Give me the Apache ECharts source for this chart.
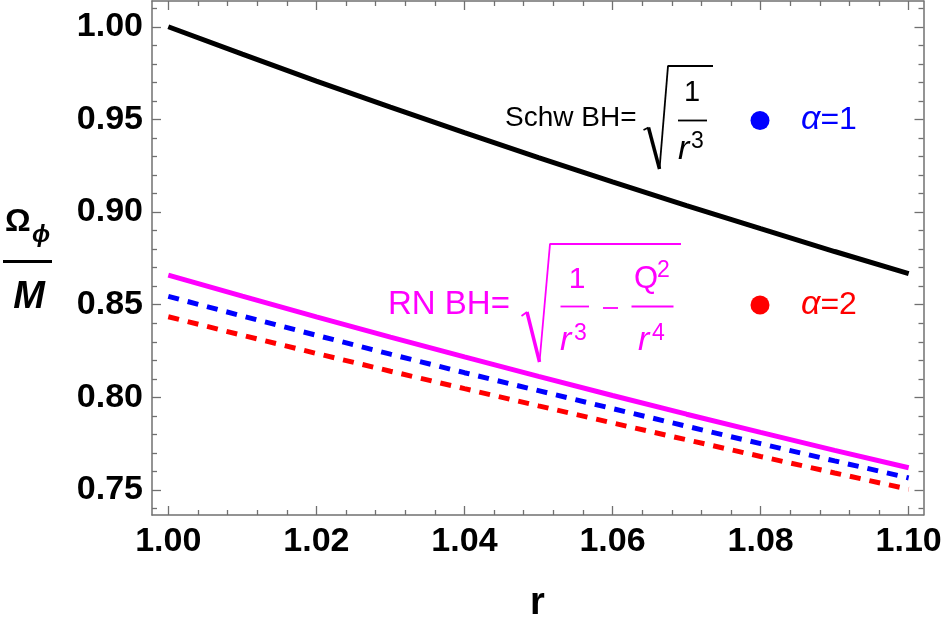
<!DOCTYPE html>
<html>
<head>
<meta charset="utf-8">
<script src="https://cdn.jsdelivr.net/npm/echarts@6/dist/echarts.min.js"></script>
<style>
html,body{margin:0;padding:0;background:#fff;}
#main{width:947px;height:631px;}
</style>
</head>
<body>
<div id="main"></div>
<script>
// ---- data ----
const rValues = [1.00, 1.01, 1.02, 1.03, 1.04, 1.05, 1.06, 1.07, 1.08, 1.09, 1.10];
const schwValues = [1.0000, 0.9852, 0.9707, 0.9566, 0.9429, 0.9294, 0.9163, 0.9035, 0.8910, 0.8787, 0.8668];
const rnValues = [0.8660, 0.8546, 0.8434, 0.8325, 0.8218, 0.8113, 0.8010, 0.7909, 0.7811, 0.7714, 0.7620];
const alpha1Values = [0.8545, 0.8439, 0.8335, 0.8233, 0.8133, 0.8036, 0.7939, 0.7844, 0.7750, 0.7657, 0.7565];
const alpha2Values = [0.8435, 0.8335, 0.8237, 0.8141, 0.8047, 0.7954, 0.7862, 0.7771, 0.7681, 0.7592, 0.7504];

const xTicks = [1.00, 1.02, 1.04, 1.06, 1.08, 1.10];
const yTicks = [0.75, 0.80, 0.85, 0.90, 0.95, 1.00];
const xMinorTicks = [1.004, 1.008, 1.012, 1.016, 1.024, 1.028, 1.032, 1.036, 1.044, 1.048, 1.052, 1.056,
                     1.064, 1.068, 1.072, 1.076, 1.084, 1.088, 1.092, 1.096];
const yMinorTicks = [0.74, 0.76, 0.77, 0.78, 0.79, 0.81, 0.82, 0.83, 0.84, 0.86, 0.87, 0.88, 0.89,
                     0.91, 0.92, 0.93, 0.94, 0.96, 0.97, 0.98, 0.99, 1.01];

const X_MIN = 0.9978, X_MAX = 1.1020, Y_MIN = 0.7365, Y_MAX = 1.0139;
const FONT = "'Liberation Sans', Arial, sans-serif";
const FRAME = '#707070';

function pairs(vals){ return rValues.map((r,i)=>[r, vals[i]]); }

function xAxisDef(pos, values, len, showLine, showLabel){
  return {
    type:'value', position:pos, min:X_MIN, max:X_MAX,
    splitLine:{show:false},
    axisLine:{show:showLine, onZero:false, lineStyle:{color:FRAME, width:1.5}},
    axisTick:{show:true, inside:true, length:len, customValues:values, lineStyle:{color:FRAME, width:1.3}},
    axisLabel:{show:showLabel, customValues:xTicks, margin:10, fontSize:34, fontWeight:'bold', color:'#000', fontFamily:FONT,
      formatter:(v)=>v.toFixed(2)}
  };
}
function yAxisDef(pos, values, len, showLine, showLabel){
  return {
    type:'value', position:pos, min:Y_MIN, max:Y_MAX,
    splitLine:{show:false},
    axisLine:{show:showLine, onZero:false, lineStyle:{color:FRAME, width:1.5}},
    axisTick:{show:true, inside:true, length:len, customValues:values, lineStyle:{color:FRAME, width:1.3}},
    axisLabel:{show:showLabel, customValues:yTicks, margin:9, fontSize:34, fontWeight:'bold', color:'#000', fontFamily:FONT,
      formatter:(v)=>v.toFixed(2)}
  };
}

const chart = echarts.init(document.getElementById('main'), null, {renderer:'canvas'});

const txt = (x,y,text,size,color,extra)=>({
  type:'text', x:x, y:y, silent:true,
  style:Object.assign({text:text, fontSize:size, fontFamily:FONT, fill:color, align:'left', verticalAlign:'middle'}, extra||{})
});
const seg = (x1,y1,x2,y2,color,w)=>({type:'line', silent:true, shape:{x1:x1,y1:y1,x2:x2,y2:y2}, style:{stroke:color, lineWidth:w}});

const MAG = '#FF00FF';

chart.setOption({
  animation:false,
  backgroundColor:'#fff',
  grid:{left:152, right:23.5, top:1, bottom:116, containLabel:false},
  xAxis:[
    xAxisDef('bottom', xTicks, 9, true, true),
    xAxisDef('bottom', xMinorTicks, 5, false, false),
    xAxisDef('top', xTicks, 9, true, false),
    xAxisDef('top', xMinorTicks, 5, false, false)
  ],
  yAxis:[
    yAxisDef('left', yTicks, 9, true, true),
    yAxisDef('left', yMinorTicks, 5, false, false),
    yAxisDef('right', yTicks, 9, true, false),
    yAxisDef('right', yMinorTicks, 5, false, false)
  ],
  series:[
    {type:'line', name:'Schw', data:pairs(schwValues), showSymbol:false, symbol:'none',
     lineStyle:{color:'#000', width:5}, z:3},
    {type:'line', name:'RN', data:pairs(rnValues), showSymbol:false, symbol:'none',
     lineStyle:{color:MAG, width:5}, z:3},
    {type:'line', name:'alpha1', data:pairs(alpha1Values), showSymbol:false, symbol:'none',
     lineStyle:{color:'#0000FF', width:5, type:[11,9]}, z:3},
    {type:'line', name:'alpha2', data:pairs(alpha2Values), showSymbol:false, symbol:'none',
     lineStyle:{color:'#FF0000', width:5, type:[11,9]}, z:3}
  ],
  graphic:[
    // y-axis title  Omega_phi / M
    txt(5, 222, 'Ω', 32, '#000', {fontWeight:'bold'}),
    txt(32, 235, 'ϕ', 24, '#000', {fontWeight:'bold', fontStyle:'italic'}),
    seg(3, 261.5, 52, 261.5, '#000', 3),
    txt(29, 298, 'M', 38, '#000', {fontWeight:'bold', fontStyle:'italic', align:'center'}),
    // x-axis title
    txt(537.5, 604, 'r', 38, '#000', {fontWeight:'bold', align:'center'}),

    // Schw BH annotation
    txt(505, 118, 'Schw BH=', 28, '#000'),
    seg(643.5, 130, 648.5, 127.5, '#000', 1.8),
    seg(648.5, 127.5, 659.5, 169, '#000', 3.5),
    seg(659.5, 169, 668, 66, '#000', 1.8),
    seg(667.5, 66, 713, 66, '#000', 1.8),
    txt(692, 93, '1', 29, '#000', {align:'center'}),
    seg(678, 120.5, 707, 120.5, '#000', 1.8),
    txt(678, 150, 'r', 34, '#000', {fontStyle:'italic'}),
    txt(691, 142, '3', 23, '#000'),
    {type:'circle', silent:true, shape:{cx:760, cy:120.5, r:9.5}, style:{fill:'#0000FF'}},
    {type:'text', x:801, y:120, silent:true, style:{text:'{a|α}=1', fontSize:32, fontFamily:FONT, fill:'#0000FF', verticalAlign:'middle',
      rich:{a:{fontStyle:'italic', fontSize:34, fontFamily:FONT, fill:'#0000FF'}}}},

    // RN BH annotation
    txt(388, 305, 'RN BH=', 33, MAG),
    seg(521.5, 316, 527, 312, MAG, 1.8),
    seg(527, 312, 539.5, 362, MAG, 3.5),
    seg(539.5, 362, 550, 244, MAG, 1.8),
    seg(549.5, 244, 681, 244, MAG, 1.8),
    txt(577, 280, '1', 30, MAG, {align:'center'}),
    seg(560.5, 306.5, 589, 306.5, MAG, 1.8),
    txt(560, 341, 'r', 34, MAG, {fontStyle:'italic'}),
    txt(574, 334, '3', 23, MAG),
    seg(603, 308, 618, 308, MAG, 1.8),
    txt(634, 279, 'Q', 31, MAG),
    txt(657, 271, '2', 23, MAG),
    seg(631.5, 306.5, 673.5, 306.5, MAG, 1.8),
    txt(638, 341, 'r', 34, MAG, {fontStyle:'italic'}),
    txt(652, 334, '4', 23, MAG),
    {type:'circle', silent:true, shape:{cx:760, cy:305, r:9.5}, style:{fill:'#FF0000'}},
    {type:'text', x:801, y:305, silent:true, style:{text:'{a|α}=2', fontSize:32, fontFamily:FONT, fill:'#FF0000', verticalAlign:'middle',
      rich:{a:{fontStyle:'italic', fontSize:34, fontFamily:FONT, fill:'#FF0000'}}}}
  ]
});
</script>
</body>
</html>
